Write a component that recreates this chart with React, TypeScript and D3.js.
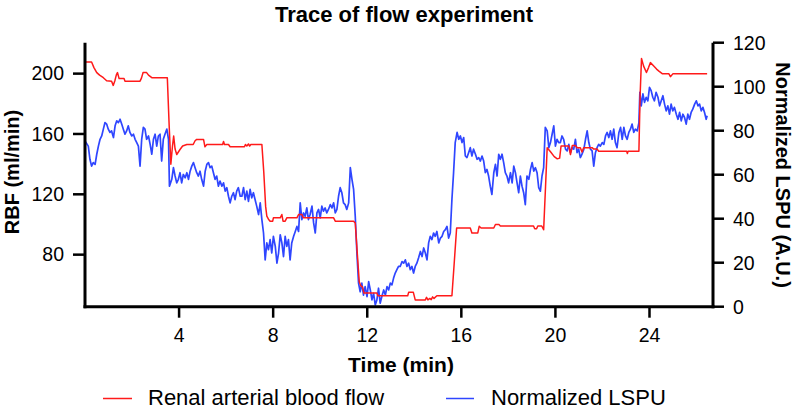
import React from "react";
import * as d3 from "d3";

const xTicks = [4, 8, 12, 16, 20, 24];
const rbfTicks = [80, 120, 160, 200];
const lspuTicks = [0, 20, 40, 60, 80, 100, 120];

const rbfTrace: [number, number][] = [
  [0, 207.7], [0.28, 207.7], [0.38, 204], [0.5, 200.7], [0.62, 199], [0.78, 197.3], [0.92, 195.3], [1.13, 195],
  [1.2, 192.2], [1.27, 195.3], [1.33, 199], [1.38, 200.7], [1.45, 196.7], [1.66, 196.7], [1.7, 195], [2.34, 195],
  [2.4, 197], [2.47, 200.7], [2.62, 200.7], [2.7, 199], [2.84, 197.3], [3.5, 197.3], [3.58, 165], [3.65, 140],
  [3.72, 152], [3.77, 158.6], [3.83, 150], [3.9, 146.4], [4.04, 149.7], [4.15, 152], [4.33, 153], [4.6, 153],
  [4.68, 155.5], [4.75, 156.4], [5.04, 156.4], [5.1, 151.5], [5.18, 153], [5.85, 153], [5.89, 155], [5.93, 153],
  [6.1, 153], [6.17, 151.5], [6.78, 151.5], [6.82, 153], [6.88, 152], [6.95, 153.4], [7.0, 152], [7.05, 153],
  [7.52, 153], [7.6, 135], [7.68, 112], [7.73, 105.5], [7.8, 103.5], [7.87, 102.2], [7.98, 102.2], [8.01, 104.4],
  [8.3, 104.4], [8.37, 106.6], [8.42, 102.2], [8.51, 102.2], [8.58, 104.4], [9.01, 104.4], [9.08, 106.6], [9.22, 106.6],
  [9.29, 104.4], [10.57, 104.4], [10.64, 102.2], [11.42, 102.2], [11.49, 101], [11.58, 80], [11.66, 62], [11.72, 59.5],
  [11.8, 58.5], [11.86, 54.6], [12.41, 54.6], [12.45, 52.8], [13.72, 52.8], [13.76, 55], [13.96, 55], [14.04, 50],
  [14.47, 50], [14.52, 51.7], [14.58, 50], [14.66, 51], [14.72, 50.2], [14.78, 52], [14.84, 51], [14.96, 52.8],
  [15.6, 52.8], [15.7, 75], [15.8, 97.7], [16.38, 97.7], [16.45, 94.4], [16.7, 94.4], [16.76, 98.8], [16.84, 97.7],
  [17.38, 97.7], [17.45, 100], [17.6, 100], [17.66, 99], [19.07, 99], [19.12, 97.2], [19.2, 97.2], [19.25, 99],
  [19.42, 99], [19.5, 96.5], [19.58, 125], [19.65, 150.9], [19.8, 148], [19.95, 145], [20.08, 143.5], [20.18, 144],
  [20.24, 152], [20.57, 152], [20.64, 146.4], [20.72, 152.4], [20.85, 152.4], [20.92, 150.9], [21.06, 150.9], [21.13, 148],
  [21.2, 150.9], [21.56, 150.9], [21.63, 150], [21.77, 150], [21.84, 148.6], [23.03, 148.6], [23.06, 147], [23.09, 148.6],
  [23.55, 148.6], [23.6, 185], [23.66, 210], [23.75, 205], [23.87, 200.7], [23.96, 204], [24.04, 207.3], [24.18, 205],
  [24.3, 203], [24.4, 201.7], [24.54, 200], [24.82, 200], [24.89, 198], [25.0, 200], [26.45, 200],
];

const lspuTrace: [number, number][] = [
  [0.0, 75.3], [0.14, 73], [0.21, 67], [0.28, 63.9], [0.35, 65.5], [0.43, 64.7], [0.5, 69.3], [0.57, 73],
  [0.64, 76.1], [0.71, 77.6], [0.78, 80.7], [0.85, 83.7], [0.92, 83], [0.99, 80.7], [1.06, 79.2], [1.13, 79.9],
  [1.21, 76.9], [1.28, 82.2], [1.35, 84.5], [1.42, 83.7], [1.49, 85.2], [1.56, 83], [1.63, 80.7], [1.7, 78.4],
  [1.77, 79.9], [1.84, 82.2], [1.91, 79.2], [1.99, 77.6], [2.06, 78.4], [2.13, 76.1], [2.2, 74.6], [2.27, 73],
  [2.34, 63.9], [2.41, 76.1], [2.48, 81.5], [2.55, 80.7], [2.62, 76.1], [2.7, 77.6], [2.77, 73.8], [2.84, 69.3],
  [2.91, 76.1], [2.98, 78.4], [3.05, 73], [3.12, 77.6], [3.19, 78.4], [3.26, 66.2], [3.33, 76.1], [3.4, 78.4],
  [3.48, 80.7], [3.55, 76.1], [3.59, 54.8], [3.69, 57.9], [3.76, 63.2], [3.83, 59.4], [3.9, 56.3], [3.97, 57.9],
  [4.04, 60.9], [4.11, 56.3], [4.18, 60.1], [4.26, 58.6], [4.33, 60.9], [4.4, 57.9], [4.47, 61.6], [4.54, 63.9],
  [4.61, 65.5], [4.68, 63.2], [4.75, 60.9], [4.82, 59.4], [4.89, 61.6], [4.96, 57.9], [5.04, 54.8], [5.11, 61.6],
  [5.18, 64.7], [5.25, 65.5], [5.32, 63.2], [5.39, 63.9], [5.46, 60.9], [5.53, 57.9], [5.6, 59.4], [5.67, 54.8],
  [5.74, 57.1], [5.82, 54.8], [5.89, 56.3], [5.96, 52.5], [6.03, 54.1], [6.1, 50.2], [6.17, 47.2], [6.24, 50.2],
  [6.31, 51.8], [6.38, 48.7], [6.45, 52.5], [6.52, 54.1], [6.6, 50.2], [6.67, 50.2], [6.74, 54.1], [6.81, 48.7],
  [6.88, 52.5], [6.95, 47.9], [7.02, 53.3], [7.09, 49.5], [7.16, 51.8], [7.23, 48.7], [7.3, 45.7], [7.38, 41.9],
  [7.45, 47.2], [7.52, 39.6], [7.59, 33.5], [7.66, 21.3], [7.73, 29], [7.8, 25.9], [7.87, 30.5], [7.94, 24.4],
  [8.01, 32], [8.09, 27.4], [8.16, 19.8], [8.23, 24.4], [8.3, 32.7], [8.37, 29], [8.44, 22.8], [8.51, 32],
  [8.58, 27.4], [8.65, 30.5], [8.72, 21.3], [8.79, 29], [8.87, 32], [8.94, 34.2], [9.01, 36.5], [9.08, 34.2],
  [9.15, 47.2], [9.22, 39.6], [9.29, 42.6], [9.36, 41.1], [9.43, 44.9], [9.5, 39.6], [9.57, 41.9], [9.65, 45.7],
  [9.72, 38.1], [9.79, 33.5], [9.86, 42.6], [9.93, 44.2], [10.0, 40.4], [10.07, 45.7], [10.14, 43.4], [10.21, 44.9],
  [10.28, 42.6], [10.35, 44.2], [10.43, 46.4], [10.5, 44.9], [10.57, 47.2], [10.64, 42.6], [10.71, 44.2], [10.78, 50.2],
  [10.85, 54.1], [10.92, 51.8], [10.99, 47.2], [11.06, 46.4], [11.13, 44.2], [11.21, 47.2], [11.28, 63.2], [11.35, 57.9],
  [11.42, 53.3], [11.49, 41.1], [11.56, 24.4], [11.63, 10.7], [11.7, 6.8], [11.77, 10.7], [11.84, 5.3], [11.91, 9.1],
  [11.99, 4.6], [12.06, 11.4], [12.13, 7.6], [12.2, 3.1], [12.27, 6.1], [12.34, 0.8], [12.41, 3.1], [12.48, 8.4],
  [12.55, 1.6], [12.62, 4.6], [12.7, 7.6], [12.77, 5.3], [12.84, 9.1], [12.91, 7.6], [12.98, 10.7], [13.05, 9.9],
  [13.12, 13], [13.19, 15.3], [13.26, 16.8], [13.33, 18.3], [13.4, 18.3], [13.48, 20.5], [13.55, 19.8], [13.62, 21.3],
  [13.69, 18.3], [13.76, 19.8], [13.83, 16.8], [13.9, 18.3], [13.97, 15.3], [14.04, 18.3], [14.11, 19.8], [14.18, 22.1],
  [14.26, 25.1], [14.33, 22.8], [14.4, 26.7], [14.47, 24.4], [14.54, 21.3], [14.61, 29], [14.68, 32], [14.75, 30.5],
  [14.82, 33.5], [14.89, 32], [14.96, 34.2], [15.04, 29], [15.11, 31.2], [15.18, 32], [15.25, 34.2], [15.32, 35],
  [15.39, 36.5], [15.46, 31.2], [15.53, 33.5], [15.6, 48.7], [15.67, 60.9], [15.74, 74.6], [15.82, 79.2], [15.89, 76.1],
  [15.96, 77.6], [16.03, 74.6], [16.1, 76.9], [16.17, 68.5], [16.24, 67.8], [16.31, 70], [16.38, 72.3], [16.45, 68.5],
  [16.52, 71.6], [16.6, 69.3], [16.67, 67], [16.74, 67.8], [16.81, 66.2], [16.88, 68.5], [16.95, 66.2], [17.02, 60.9],
  [17.09, 62.4], [17.16, 59.4], [17.23, 54.8], [17.3, 51], [17.38, 60.9], [17.45, 64.7], [17.52, 59.4], [17.59, 69.3],
  [17.66, 67], [17.73, 69.3], [17.8, 65.5], [17.87, 60.9], [17.94, 59.4], [18.01, 56.3], [18.09, 60.9], [18.16, 56.3],
  [18.23, 63.9], [18.3, 60.9], [18.37, 56.3], [18.44, 51.8], [18.51, 59.4], [18.58, 54.8], [18.65, 51.8], [18.72, 46.4],
  [18.79, 59.4], [18.87, 57.9], [18.94, 62.4], [19.01, 65.5], [19.08, 61.6], [19.15, 63.2], [19.22, 60.9], [19.29, 54.1],
  [19.36, 52.5], [19.43, 59.4], [19.5, 63.2], [19.57, 81.5], [19.65, 79.9], [19.72, 72.3], [19.79, 74.6], [19.86, 78.4],
  [19.93, 82.2], [20.0, 73], [20.07, 76.1], [20.14, 74.6], [20.21, 74.6], [20.28, 77.6], [20.35, 76.1], [20.43, 71.6],
  [20.5, 70.8], [20.57, 73.8], [20.64, 70], [20.71, 72.3], [20.78, 71.6], [20.85, 76.1], [20.92, 70], [20.99, 71.6],
  [21.06, 67.8], [21.13, 69.3], [21.21, 71.6], [21.28, 76.1], [21.35, 79.9], [21.42, 74.6], [21.49, 71.6], [21.56, 70.8],
  [21.63, 63.9], [21.7, 70], [21.77, 72.3], [21.84, 73.8], [21.91, 73], [21.99, 74.6], [22.06, 73.8], [22.13, 77.6],
  [22.2, 79.2], [22.27, 76.9], [22.34, 79.9], [22.41, 76.1], [22.48, 80.7], [22.55, 74.6], [22.62, 72.3], [22.7, 79.2],
  [22.77, 81.5], [22.84, 76.1], [22.91, 81.5], [22.98, 77.6], [23.05, 76.1], [23.12, 79.2], [23.19, 80.7], [23.26, 83],
  [23.33, 79.2], [23.4, 80.7], [23.48, 79.9], [23.55, 83.7], [23.59, 97.4], [23.65, 91.3], [23.72, 96.7], [23.79, 92.9],
  [23.86, 95.2], [23.93, 93.6], [24.0, 99.7], [24.07, 98.2], [24.14, 95.2], [24.21, 93.6], [24.28, 97.4], [24.36, 95.2],
  [24.43, 91.3], [24.5, 93.6], [24.57, 95.9], [24.64, 92.1], [24.71, 89], [24.78, 91.3], [24.85, 87.5], [24.92, 92.1],
  [24.99, 89], [25.06, 90.6], [25.14, 87.5], [25.21, 85.2], [25.28, 88.3], [25.35, 84.5], [25.42, 87.5], [25.49, 86],
  [25.56, 83], [25.63, 87.5], [25.7, 85.2], [25.77, 88.3], [25.84, 89.8], [25.92, 92.1], [25.99, 93.6], [26.06, 91.3],
  [26.13, 92.1], [26.2, 89], [26.27, 90.6], [26.34, 88.3], [26.41, 85.2], [26.45, 86.8],
];

const FONT = "'Liberation Sans', Arial, Helvetica, sans-serif";
const RED = "#ff1a1a";
const BLUE = "#2f46ff";

export default function App() {
  const W = 794, H = 410;
  const left = 85, right = 713, top = 42.7, bottom = 306.7;
  const x = d3.scaleLinear().domain([0, 26.7]).range([left, right]);
  const yL = d3.scaleLinear().domain([45.5, 220.5]).range([bottom, top]);
  const yR = d3.scaleLinear().domain([0, 120]).range([bottom, top]);
  const redLine = d3.line<[number, number]>().x(d => x(d[0])).y(d => yL(d[1]));
  const blueLine = d3.line<[number, number]>().x(d => x(d[0])).y(d => yR(d[1]));
  const tickSize = 19.5;
  return (
    <svg width={W} height={H} style={{ position: "absolute", left: 0, top: 0, display: "block" }}
      fontFamily={FONT}>
      <rect width={W} height={H} fill="#fff" />
      <text x={404} y={22} textAnchor="middle" fontSize={22} fontWeight="bold">Trace of flow experiment</text>
      <path d={blueLine(lspuTrace) || ""} fill="none" stroke={BLUE} strokeWidth={1.7} strokeLinejoin="round" />
      <path d={redLine(rbfTrace) || ""} fill="none" stroke={RED} strokeWidth={1.5} strokeLinejoin="round" />
      <g stroke="#000" strokeWidth={3} fill="none">
        <line x1={left} x2={left} y1={top} y2={bottom + 1.5} />
        <line x1={left - 1.5} x2={right + 1.5} y1={bottom} y2={bottom} />
        <line x1={right} x2={right} y1={top} y2={bottom + 1.5} />
      </g>
      <g stroke="#000" strokeWidth={2.5}>
        {rbfTicks.map(t => <line key={"l" + t} x1={left - 12} x2={left} y1={yL(t)} y2={yL(t)} />)}
        {lspuTicks.map(t => <line key={"r" + t} x1={right} x2={right + 11} y1={yR(t)} y2={yR(t)} />)}
        {xTicks.map(t => <line key={"x" + t} x1={x(t)} x2={x(t)} y1={bottom} y2={bottom + 11} />)}
      </g>
      <g fontSize={tickSize} fill="#000">
        {rbfTicks.map(t => <text key={"lt" + t} x={64} y={yL(t)} dy="0.35em" textAnchor="end">{t}</text>)}
        {lspuTicks.map(t => <text key={"rt" + t} x={733} y={yR(t)} dy="0.35em" textAnchor="start">{t}</text>)}
        {xTicks.map(t => <text key={"xt" + t} x={x(t)} y={341.7} textAnchor="middle">{t}</text>)}
      </g>
      <text x={401} y={372} textAnchor="middle" fontSize={21} fontWeight="bold">Time (min)</text>
      <text transform="translate(19,172) rotate(-90)" textAnchor="middle" fontSize={20} fontWeight="bold">RBF (ml/min)</text>
      <text transform="translate(776,175) rotate(90)" textAnchor="middle" fontSize={20} fontWeight="bold">Normalized LSPU (A.U.)</text>
      <line x1={103} x2={132} y1={398.5} y2={398.5} stroke={RED} strokeWidth={1.5} />
      <text x={148} y={405} fontSize={22}>Renal arterial blood flow</text>
      <line x1={446} x2={474} y1={398.5} y2={398.5} stroke={BLUE} strokeWidth={1.5} />
      <text x={491} y={405} fontSize={22}>Normalized LSPU</text>
    </svg>
  );
}
